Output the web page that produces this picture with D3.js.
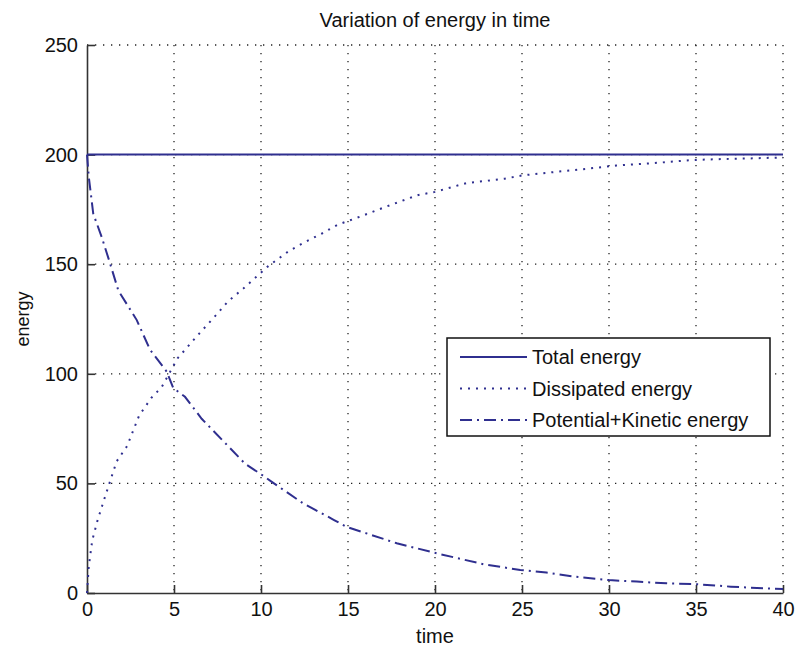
<!DOCTYPE html>
<html>
<head>
<meta charset="utf-8">
<script src="https://cdn.jsdelivr.net/npm/d3@7"></script>
<style>
  body { margin: 0; background: #fff; }
  text { font-family: "Liberation Sans", Arial, sans-serif; fill: #111; }
</style>
</head>
<body>
<div id="chart"></div>
<script>
// Values
const totalTime = [0, 40];
const totalEnergy = [200, 200];

const dissipatedTime = [0, 0.1, 0.3, 0.6, 1.0, 1.7, 2.3, 3.0, 3.7, 4.3, 5.2, 6.3, 7.5, 8.1, 9.0, 9.7, 10.4, 11.6, 12.5, 13.5, 14.4, 15.8, 17.1, 19.0, 20.0, 21.8, 24.0, 25.0, 26.8, 28.7, 30.4, 32.4, 34.7, 36.6, 38.3, 40];
const dissipatedEnergy = [0, 12, 24, 33, 43, 60, 67, 81, 89, 94, 107, 117, 127.5, 133, 139, 144, 149, 156, 160, 164, 168, 172, 176, 181.5, 183, 187, 189, 190.5, 192, 193.5, 195, 196, 197.5, 198, 198.3, 198.7];

const pkTime = [0, 0.1, 0.36, 0.84, 1.32, 1.8, 2.86, 3.62, 4.58, 4.96, 5.63, 6.59, 7.93, 9.08, 9.94, 10.6, 12.4, 14.2, 14.9, 17.8, 20.1, 22.8, 24.9, 26.4, 28.1, 30, 31.6, 33.3, 34.9, 37, 38.9, 40];
const pkEnergy = [200, 190, 173, 162.5, 150.5, 138, 124.5, 111, 101, 93.5, 89.5, 79.5, 68.5, 59, 54.5, 50.8, 41, 33.3, 30.2, 22.7, 18.1, 13.1, 10.5, 9.3, 7.4, 5.9, 5.2, 4.4, 4.1, 2.9, 2.1, 1.8];

const xTicks = [0, 5, 10, 15, 20, 25, 30, 35, 40];
const yTicks = [0, 50, 100, 150, 200, 250];
const legendLabels = ["Total energy", "Dissipated energy", "Potential+Kinetic energy"];

// Set up dimensions
const width = 796;
const height = 650;
const margin = {top: 45, right: 13, bottom: 57, left: 87};
const lineColor = "#2f2f8f";

const svg = d3.select("#chart")
    .append("svg")
    .attr("width", width)
    .attr("height", height);

const x = d3.scaleLinear().domain([0, 40]).range([margin.left, width - margin.right]);
const y = d3.scaleLinear().domain([0, 250]).range([height - margin.bottom, margin.top]);

// Dotted grid (also draws the top and right edges)
const grid = svg.append("g").attr("stroke", "#222").attr("stroke-width", 1.3).attr("stroke-dasharray", "1.3,6.7");
grid.selectAll("line.gx")
    .data(xTicks.slice(1))
    .join("line")
    .attr("x1", d => x(d)).attr("x2", d => x(d))
    .attr("y1", y(250)).attr("y2", y(0));
grid.selectAll("line.gy")
    .data(yTicks.slice(1))
    .join("line")
    .attr("y1", d => y(d)).attr("y2", d => y(d))
    .attr("x1", x(0)).attr("x2", x(40));

// Axes with inward ticks
const xAxis = svg.append("g")
    .attr("transform", `translate(0,${y(0)})`)
    .call(d3.axisBottom(x).tickValues(xTicks).tickSizeInner(-8).tickSizeOuter(0).tickPadding(12));
const yAxis = svg.append("g")
    .attr("transform", `translate(${x(0)},0)`)
    .call(d3.axisLeft(y).tickValues(yTicks).tickSizeInner(-8).tickSizeOuter(0).tickPadding(9));

[xAxis, yAxis].forEach(g => {
    g.select(".domain").attr("stroke", "#333").attr("stroke-width", 1.6);
    g.selectAll(".tick line").attr("stroke", "#333").attr("stroke-width", 1.6);
    g.selectAll(".tick text").attr("font-size", 20).attr("font-family", "Liberation Sans, Arial, sans-serif").attr("fill", "#111");
});
xAxis.selectAll(".tick text").attr("dy", "0.55em");

// Lines
const line = d3.line().x(d => x(d[0])).y(d => y(d[1]));

svg.append("path")
    .datum(d3.zip(totalTime, totalEnergy))
    .attr("fill", "none")
    .attr("stroke", lineColor)
    .attr("stroke-width", 2)
    .attr("d", line);

svg.append("path")
    .datum(d3.zip(dissipatedTime, dissipatedEnergy))
    .attr("fill", "none")
    .attr("stroke", lineColor)
    .attr("stroke-width", 2)
    .attr("stroke-dasharray", "2,6")
    .attr("d", line);

svg.append("path")
    .datum(d3.zip(pkTime, pkEnergy))
    .attr("fill", "none")
    .attr("stroke", lineColor)
    .attr("stroke-width", 2)
    .attr("stroke-dasharray", "12,5,2,5")
    .attr("d", line);

// Title and axis labels
svg.append("text")
    .attr("x", (x(0) + x(40)) / 2)
    .attr("y", 27)
    .attr("text-anchor", "middle")
    .attr("font-size", 20)
    .text("Variation of energy in time");

svg.append("text")
    .attr("x", (x(0) + x(40)) / 2)
    .attr("y", 643)
    .attr("text-anchor", "middle")
    .attr("font-size", 20)
    .text("time");

svg.append("text")
    .attr("transform", `translate(29,${(y(0) + y(250)) / 2}) rotate(-90)`)
    .attr("text-anchor", "middle")
    .attr("font-size", 18)
    .text("energy");

// Legend
const legend = svg.append("g").attr("transform", "translate(447,338)");
legend.append("rect")
    .attr("width", 323)
    .attr("height", 98)
    .attr("fill", "#fff")
    .attr("stroke", "#111")
    .attr("stroke-width", 1.5);

const dashes = [null, "2,6", "12,5,2,5"];
const rows = legend.selectAll("g.row")
    .data(legendLabels)
    .join("g")
    .attr("transform", (d, i) => `translate(0,${19 + i * 31.5})`);
rows.append("line")
    .attr("x1", 13).attr("x2", 80)
    .attr("stroke", lineColor)
    .attr("stroke-width", 2)
    .attr("stroke-dasharray", (d, i) => dashes[i]);
rows.append("text")
    .attr("x", 85)
    .attr("dy", "0.36em")
    .attr("font-size", 20)
    .text(d => d);
</script>
</body>
</html>
